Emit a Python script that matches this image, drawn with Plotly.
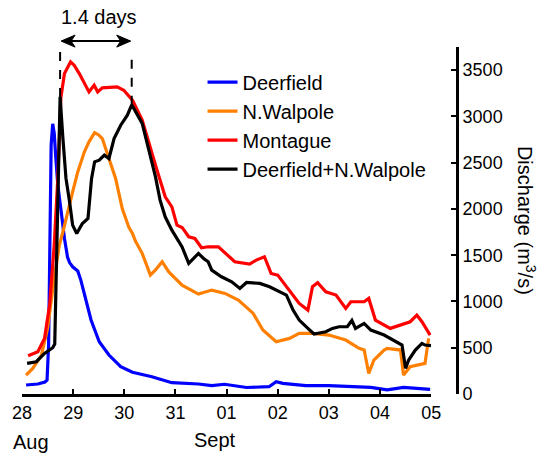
import plotly.graph_objects as go

# ---- data (days since 28 Aug 00:00, discharge m^3/s) ----
day_ticks = [0, 1, 2, 3, 4, 5, 6, 7, 8]
day_labels = ["28", "29", "30", "31", "01", "02", "03", "04", "05"]
q_ticks = [0, 500, 1000, 1500, 2000, 2500, 3000, 3500]

deer_t = [0.08, 0.31, 0.45, 0.49, 0.52, 0.55, 0.57, 0.60, 0.63, 0.66, 0.70, 0.76, 0.83, 0.89,
          0.93, 0.99, 1.09, 1.15, 1.25, 1.35, 1.51, 1.70, 1.93, 2.16, 2.54, 2.93, 3.45, 3.71,
          3.96, 4.39, 4.83, 4.97, 5.10, 5.55, 6.00, 6.43, 6.82, 7.14, 7.46, 7.98]
deer_q = [97, 108, 130, 150, 530, 1610, 2690, 2920, 2820, 2560, 2257, 2000, 1680, 1480,
          1420, 1375, 1330, 1231, 1000, 800, 565, 421, 295, 235, 187, 122, 108, 90,
          105, 70, 79, 133, 115, 90, 90, 85, 72, 45, 72, 51]

walp_t = [0.08, 0.21, 0.38, 0.50, 0.63, 0.73, 0.80, 0.89, 0.99, 1.09, 1.22, 1.31, 1.42, 1.50,
          1.57, 1.70, 1.83, 1.96, 2.09, 2.16, 2.22, 2.35, 2.51, 2.61, 2.74, 2.87, 3.13, 3.45,
          3.71, 3.97, 4.23, 4.45, 4.52, 4.71, 4.97, 5.23, 5.42, 5.68, 6.00, 6.33, 6.59, 6.69,
          6.78, 6.88, 7.08, 7.14, 7.40, 7.46, 7.59, 7.88, 7.95]
walp_q = [205, 277, 421, 710, 1250, 1610, 1753, 1970, 2185, 2400, 2617, 2725, 2825, 2800,
          2760, 2545, 2330, 2005, 1800, 1735, 1650, 1520, 1285, 1340, 1430, 1320, 1177, 1080,
          1123, 1087, 1015, 907, 871, 691, 565, 601, 655, 655, 637, 583, 493, 475,
          223, 367, 475, 493, 475, 205, 295, 331, 601]

mont_t = [0.12, 0.31, 0.44, 0.54, 0.63, 0.70, 0.76, 0.83, 0.95, 1.02, 1.12, 1.22, 1.31, 1.41,
          1.48, 1.57, 1.86, 1.99, 2.12, 2.16, 2.35, 2.48, 2.64, 2.80, 2.93, 3.03, 3.13, 3.26,
          3.38, 3.51, 3.64, 3.84, 4.03, 4.16, 4.45, 4.58, 4.74, 4.87, 5.00, 5.23, 5.42, 5.59,
          5.68, 5.78, 5.94, 6.14, 6.33, 6.43, 6.69, 6.78, 6.91, 7.20, 7.40, 7.59, 7.72, 7.82,
          7.98]
mont_q = [414, 457, 601, 961, 1610, 2330, 3200, 3463, 3590, 3553, 3463, 3355, 3265, 3337,
          3265, 3308, 3319, 3283, 3193, 3175, 2959, 2707, 2419, 2131, 2023, 1825, 1800, 1699,
          1681, 1580, 1591, 1591, 1490, 1429, 1404, 1447, 1483, 1303, 1285, 1123, 979, 907,
          1159, 1202, 1105, 1069, 925, 997, 997, 1033, 799, 709, 745, 781, 853, 781,
          637]

sum_t = [0.10, 0.28, 0.44, 0.60, 0.64, 0.66, 0.69, 0.72, 0.745, 0.80, 0.86, 0.93, 0.99, 1.07,
         1.18, 1.29, 1.36, 1.42, 1.51, 1.61, 1.70, 1.80, 1.93, 2.06, 2.145, 2.35, 2.48, 2.61,
         2.70, 2.80, 2.93, 3.13, 3.26, 3.35, 3.45, 3.55, 3.64, 3.71, 3.90, 4.10, 4.26, 4.39,
         4.65, 4.84, 5.04, 5.17, 5.30, 5.42, 5.59, 5.71, 5.94, 6.07, 6.20, 6.36, 6.45, 6.52,
         6.69, 6.82, 7.08, 7.27, 7.43, 7.50, 7.56, 7.69, 7.82, 7.88, 8.00]
sum_q = [331, 349, 439, 500, 540, 1000, 1700, 2700, 3211, 2760, 2330, 2077, 1825, 1735,
         1843, 1897, 2330, 2509, 2527, 2581, 2545, 2760, 2905, 3013, 3125, 2924, 2635, 2347,
         2095, 1915, 1771, 1590, 1411, 1465, 1519, 1465, 1429, 1339, 1267, 1213, 1141, 1205,
         1195, 1159, 1105, 1069, 907, 799, 709, 648, 673, 709, 727, 727, 795, 709,
         763, 691, 637, 583, 529, 277, 367, 475, 547, 529, 522]

lag_days = 1.4

series = [
    ("Deerfield", deer_t, deer_q, "#0000ff"),
    ("N.Walpole", walp_t, walp_q, "#ff8000"),
    ("Montague", mont_t, mont_q, "#ff0000"),
    ("Deerfield+N.Walpole", sum_t, sum_q, "#000000"),
]

FONT = "Liberation Sans, Arial, Helvetica, sans-serif"

fig = go.Figure()
for name, t, q, col in series:
    fig.add_trace(go.Scatter(x=t, y=q, mode="lines", name=name,
                             line=dict(color=col, width=3.2)))

# lag markers derived from the summed series peak
i_peak = sum_q.index(max(sum_q))
t0 = sum_t[i_peak]
t1 = t0 + lag_days
i1 = min(range(len(sum_t)), key=lambda i: abs(sum_t[i] - t1))
top = 3700
fig.add_shape(type="line", xref="x", yref="y", x0=t0, x1=t0, y0=sum_q[i_peak], y1=top,
              line=dict(color="black", width=2, dash="dash"))
fig.add_shape(type="line", xref="x", yref="y", x0=t1, x1=t1, y0=sum_q[i1], y1=top,
              line=dict(color="black", width=2, dash="dash"))

# double-headed arrow (line + two arrowheads sized in pixels)
arrow_y = 1.017
fig.add_shape(type="line", xref="x", yref="paper", x0=t0 + 0.05, x1=t1 - 0.05,
              y0=arrow_y, y1=arrow_y, line=dict(color="black", width=2))
fig.add_shape(type="path", xref="x", yref="paper", xsizemode="pixel", ysizemode="pixel",
              xanchor=t0, yanchor=arrow_y, path="M1,0 L15,6 L11,0 L15,-6 Z",
              fillcolor="black", line=dict(color="black", width=1))
fig.add_shape(type="path", xref="x", yref="paper", xsizemode="pixel", ysizemode="pixel",
              xanchor=t1, yanchor=arrow_y, path="M-1,0 L-15,6 L-11,0 L-15,-6 Z",
              fillcolor="black", line=dict(color="black", width=1))

fig.add_annotation(x=(t0 + t1) / 2, y=1.086, xref="x", yref="paper", xshift=3,
                   text="1.4 days", showarrow=False, font=dict(size=20, color="black"),
                   xanchor="center", yanchor="middle")

fig.add_annotation(x=0.0205, y=-0.138, xref="paper", yref="paper", text="Aug",
                   showarrow=False, font=dict(size=20, color="black"),
                   xanchor="center", yanchor="middle")
fig.add_annotation(x=0.443, y=-0.132, xref="paper", yref="paper", text="Sept",
                   showarrow=False, font=dict(size=20, color="black"),
                   xanchor="center", yanchor="middle")
fig.add_annotation(x=1.16, y=0.5, xref="paper", yref="paper",
                   text="Discharge (m<sup>3</sup>/s)", textangle=90,
                   showarrow=False, font=dict(size=20, color="black"),
                   xanchor="center", yanchor="middle")

fig.update_layout(
    width=539, height=455,
    margin=dict(l=19, r=82, t=47, b=61),
    paper_bgcolor="white", plot_bgcolor="white",
    font=dict(family=FONT, color="black"),
    showlegend=True,
    legend=dict(x=0.415, y=0.955, xanchor="left", yanchor="top",
                bgcolor="rgba(0,0,0,0)", font=dict(size=20, color="black"),
                borderwidth=0),
    xaxis=dict(domain=[0, 0.9406], range=[0, 8], tickvals=day_ticks, ticktext=day_labels,
               ticks="inside", ticklen=5, tickwidth=2, tickcolor="black",
               showline=True, linewidth=3, linecolor="black",
               showgrid=False, zeroline=False, tickfont=dict(size=18, color="black")),
    yaxis=dict(side="right", anchor="free", position=1, range=[0, 3750], tickvals=q_ticks,
               ticks="inside", ticklen=5, tickwidth=2, tickcolor="black",
               showline=True, linewidth=3, linecolor="black",
               showgrid=False, zeroline=False, tickfont=dict(size=18, color="black")),
)

fig.write_html("out.html")
